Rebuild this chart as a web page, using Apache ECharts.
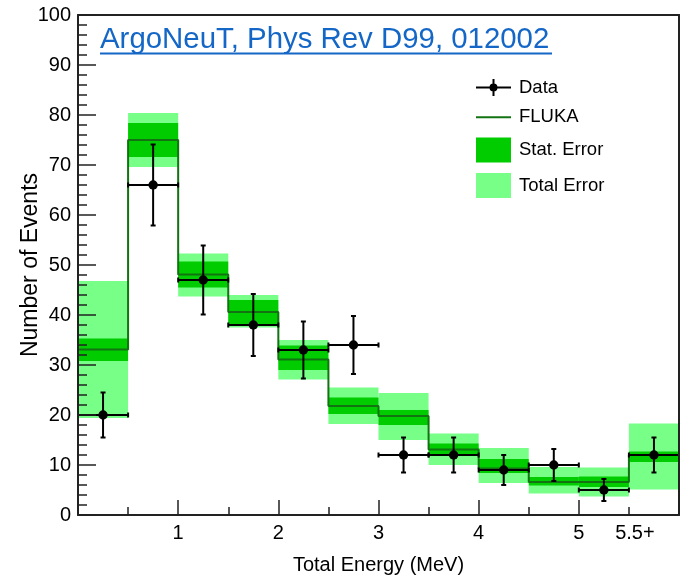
<!DOCTYPE html>
<html>
<head>
<meta charset="utf-8">
<script src="https://cdn.jsdelivr.net/npm/echarts@6/dist/echarts.min.js"></script>
<style>
  html, body { margin: 0; padding: 0; background: #ffffff; }
  #chart { width: 687px; height: 577px; }
</style>
</head>
<body>
<div id="chart"></div>
<script>
// Energy bins (MeV): low edges, last bin is overflow "5.5+"
const binLow = [0, 0.5, 1.0, 1.5, 2.0, 2.5, 3.0, 3.5, 4.0, 4.5, 5.0, 5.5];
const binWidth = 0.5;
const xMax = 6;

// Measured counts and their error bars
const dataCounts = [20, 66, 47, 38, 33, 34, 12, 12, 9, 10, 5, 12];
const dataErrLow = [15.5, 57.9, 40.1, 31.8, 27.3, 28.2, 8.5, 8.5, 6.0, 6.8, 2.8, 8.5];
const dataErrHigh = [24.5, 74.1, 53.9, 44.2, 38.7, 39.8, 15.5, 15.5, 12.0, 13.2, 7.2, 15.5];

// FLUKA prediction with statistical and total uncertainty bands
const flukaValues = [33.1, 75.0, 48.1, 40.6, 31.1, 21.8, 19.8, 13.1, 9.3, 6.6, 6.6, 12.0];
const statLow = [30.8, 71.6, 45.5, 38.2, 29.0, 20.2, 18.0, 11.8, 8.4, 5.9, 5.6, 10.6];
const statHigh = [35.3, 78.4, 50.7, 43.0, 33.9, 23.5, 21.0, 14.3, 11.2, 7.6, 7.7, 12.7];
const totalLow = [19.4, 69.6, 43.7, 37.5, 27.1, 18.2, 15.0, 10.0, 6.4, 4.3, 3.7, 5.1];
const totalHigh = [46.8, 80.4, 52.3, 44.0, 35.0, 25.5, 24.4, 16.3, 13.4, 9.6, 9.5, 18.3];

// Axis tick labels
const xTickLabels = { '1': '1', '2': '2', '3': '3', '4': '4', '5': '5', '5.5': '{o|5.5+}' };
const yMin = 0, yMax = 100, yStep = 10;

const FONT = '"Liberation Sans", Arial, Helvetica, sans-serif';
const COL_LINE = '#137313';
const COL_STAT = '#00cc00';
const COL_TOTAL = '#77ff88';
const COL_TITLE = '#1467c6';

const bandRows = (lo, hi) => binLow.map((x0, i) => [x0, x0 + binWidth, lo[i], hi[i]]);
const dataRows = binLow.map((x0, i) => [x0 + binWidth / 2, dataCounts[i], dataErrLow[i], dataErrHigh[i], x0, x0 + binWidth]);
const flukaSteps = binLow.map((x0, i) => [x0, flukaValues[i]]).concat([[xMax, flukaValues[flukaValues.length - 1]]]);

function renderBand(params, api) {
  const p0 = api.coord([api.value(0), api.value(3)]);
  const p1 = api.coord([api.value(1), api.value(2)]);
  return {
    type: 'rect',
    shape: { x: p0[0], y: p0[1], width: p1[0] - p0[0], height: p1[1] - p0[1] },
    style: { fill: api.visual('color') }
  };
}

function renderPoint(params, api) {
  const xc = api.value(0), y = api.value(1);
  const c = api.coord([xc, y]);
  const l = api.coord([api.value(4), y]);
  const r = api.coord([api.value(5), y]);
  const t = api.coord([xc, api.value(3)]);
  const b = api.coord([xc, api.value(2)]);
  const cap = 2.5;
  const st = { stroke: '#000', lineWidth: 2 };
  const seg = (x1, y1, x2, y2) => ({ type: 'line', shape: { x1, y1, x2, y2 }, style: st });
  return {
    type: 'group',
    children: [
      seg(l[0], c[1], r[0], c[1]),
      seg(l[0], c[1] - cap, l[0], c[1] + cap),
      seg(r[0], c[1] - cap, r[0], c[1] + cap),
      seg(c[0], t[1], c[0], b[1]),
      seg(c[0] - cap, t[1], c[0] + cap, t[1]),
      seg(c[0] - cap, b[1], c[0] + cap, b[1]),
      { type: 'circle', shape: { cx: c[0], cy: c[1], r: 4.7 }, style: { fill: '#000' } }
    ]
  };
}

const chart = echarts.init(document.getElementById('chart'), null, { renderer: 'canvas' });

const dataIcon = 'path://M0,7.5 L35,7.5 L35,9.5 L0,9.5 Z M16.5,0 L18.5,0 L18.5,17 L16.5,17 Z M21.5,8.5 A4,4 0 1,1 13.5,8.5 A4,4 0 1,1 21.5,8.5 Z';
const lineIcon = 'path://M0,0 L35,0 L35,2 L0,2 Z';

chart.setOption({
  backgroundColor: '#ffffff',
  animation: false,
  grid: { left: 78, right: 8, top: 15, bottom: 62, containLabel: false, outerBoundsMode: 'none' },
  graphic: [
    {
      type: 'text', left: 100, top: 25, z: 20,
      style: { text: 'ArgoNeuT, Phys Rev D99, 012002', font: '29.4px ' + FONT, fill: COL_TITLE }
    },
    {
      type: 'line', z: 20,
      shape: { x1: 100, y1: 53.5, x2: 552, y2: 53.5 },
      style: { stroke: COL_TITLE, lineWidth: 2 }
    }
  ],
  legend: {
    orient: 'vertical',
    left: 476, top: 78,
    padding: 0,
    itemWidth: 35, itemHeight: 25, itemGap: 10.7,
    selectedMode: false,
    textStyle: { fontFamily: FONT, fontSize: 18.5, color: '#000', padding: [0, 0, 0, 3] },
    data: [
      { name: 'Data', icon: dataIcon },
      { name: 'FLUKA', icon: lineIcon },
      { name: 'Stat. Error', icon: 'rect' },
      { name: 'Total Error', icon: 'rect' }
    ]
  },
  xAxis: [
    {
      type: 'value', position: 'bottom', min: 0, max: xMax, interval: 0.5, z: 10,
      name: 'Total Energy (MeV)', nameLocation: 'middle', nameGap: 40, nameMoveOverlap: false,
      nameTextStyle: { fontFamily: FONT, fontSize: 20, color: '#000' },
      axisLine: { show: true, onZero: false, lineStyle: { color: '#222', width: 2 } },
      axisTick: { show: true, inside: true, length: 8, lineStyle: { color: '#222', width: 1.5 } },
      splitLine: { show: false },
      axisLabel: {
        margin: 8, fontFamily: FONT, fontSize: 20, color: '#000',
        showMinLabel: true, showMaxLabel: true,
        formatter: v => xTickLabels[String(v)] || '',
        rich: { o: { fontFamily: FONT, fontSize: 20, color: '#000', padding: [0, 0, 0, 12] } }
      }
    },
    {
      type: 'value', position: 'bottom', min: 0, max: xMax, interval: 1, z: 10,
      axisLine: { show: false },
      axisTick: { show: true, inside: true, length: 15, lineStyle: { color: '#222', width: 1.5 } },
      axisLabel: { show: false },
      splitLine: { show: false }
    },
    {
      type: 'value', position: 'top', min: 0, max: xMax, z: 10,
      axisLine: { show: true, onZero: false, lineStyle: { color: '#222', width: 2 } },
      axisTick: { show: false }, axisLabel: { show: false }, splitLine: { show: false }
    }
  ],
  yAxis: [
    {
      type: 'value', position: 'left', min: yMin, max: yMax, interval: yStep, z: 10,
      name: 'Number of Events', nameLocation: 'middle', nameGap: 36, nameRotate: 90, nameMoveOverlap: false,
      nameTextStyle: { fontFamily: FONT, fontSize: 23, color: '#000' },
      axisLine: { show: true, onZero: false, lineStyle: { color: '#222', width: 2 } },
      axisTick: { show: true, inside: true, length: 18, lineStyle: { color: '#222', width: 1.5 } },
      minorTick: { show: true, splitNumber: 5, length: 9, lineStyle: { color: '#222', width: 1.5 } },
      splitLine: { show: false },
      axisLabel: { margin: 7, fontFamily: FONT, fontSize: 20, color: '#000' }
    },
    {
      type: 'value', position: 'right', min: yMin, max: yMax, z: 10,
      axisLine: { show: true, onZero: false, lineStyle: { color: '#222', width: 2 } },
      axisTick: { show: false }, axisLabel: { show: false }, splitLine: { show: false }
    }
  ],
  series: [
    {
      name: 'Total Error', type: 'custom', z: 2,
      xAxisIndex: 0, yAxisIndex: 0,
      itemStyle: { color: COL_TOTAL },
      renderItem: renderBand,
      encode: { x: [0, 1], y: [2, 3] },
      data: bandRows(totalLow, totalHigh)
    },
    {
      name: 'Stat. Error', type: 'custom', z: 3,
      xAxisIndex: 0, yAxisIndex: 0,
      itemStyle: { color: COL_STAT },
      renderItem: renderBand,
      encode: { x: [0, 1], y: [2, 3] },
      data: bandRows(statLow, statHigh)
    },
    {
      name: 'FLUKA', type: 'line', z: 4,
      xAxisIndex: 0, yAxisIndex: 0,
      step: 'end', symbol: 'none',
      color: COL_LINE,
      lineStyle: { color: COL_LINE, width: 2 },
      itemStyle: { color: COL_LINE },
      data: flukaSteps
    },
    {
      name: 'Data', type: 'custom', z: 5,
      xAxisIndex: 0, yAxisIndex: 0,
      itemStyle: { color: '#000' },
      renderItem: renderPoint,
      encode: { x: [0, 4, 5], y: [1, 2, 3] },
      data: dataRows
    }
  ]
});
</script>
</body>
</html>
